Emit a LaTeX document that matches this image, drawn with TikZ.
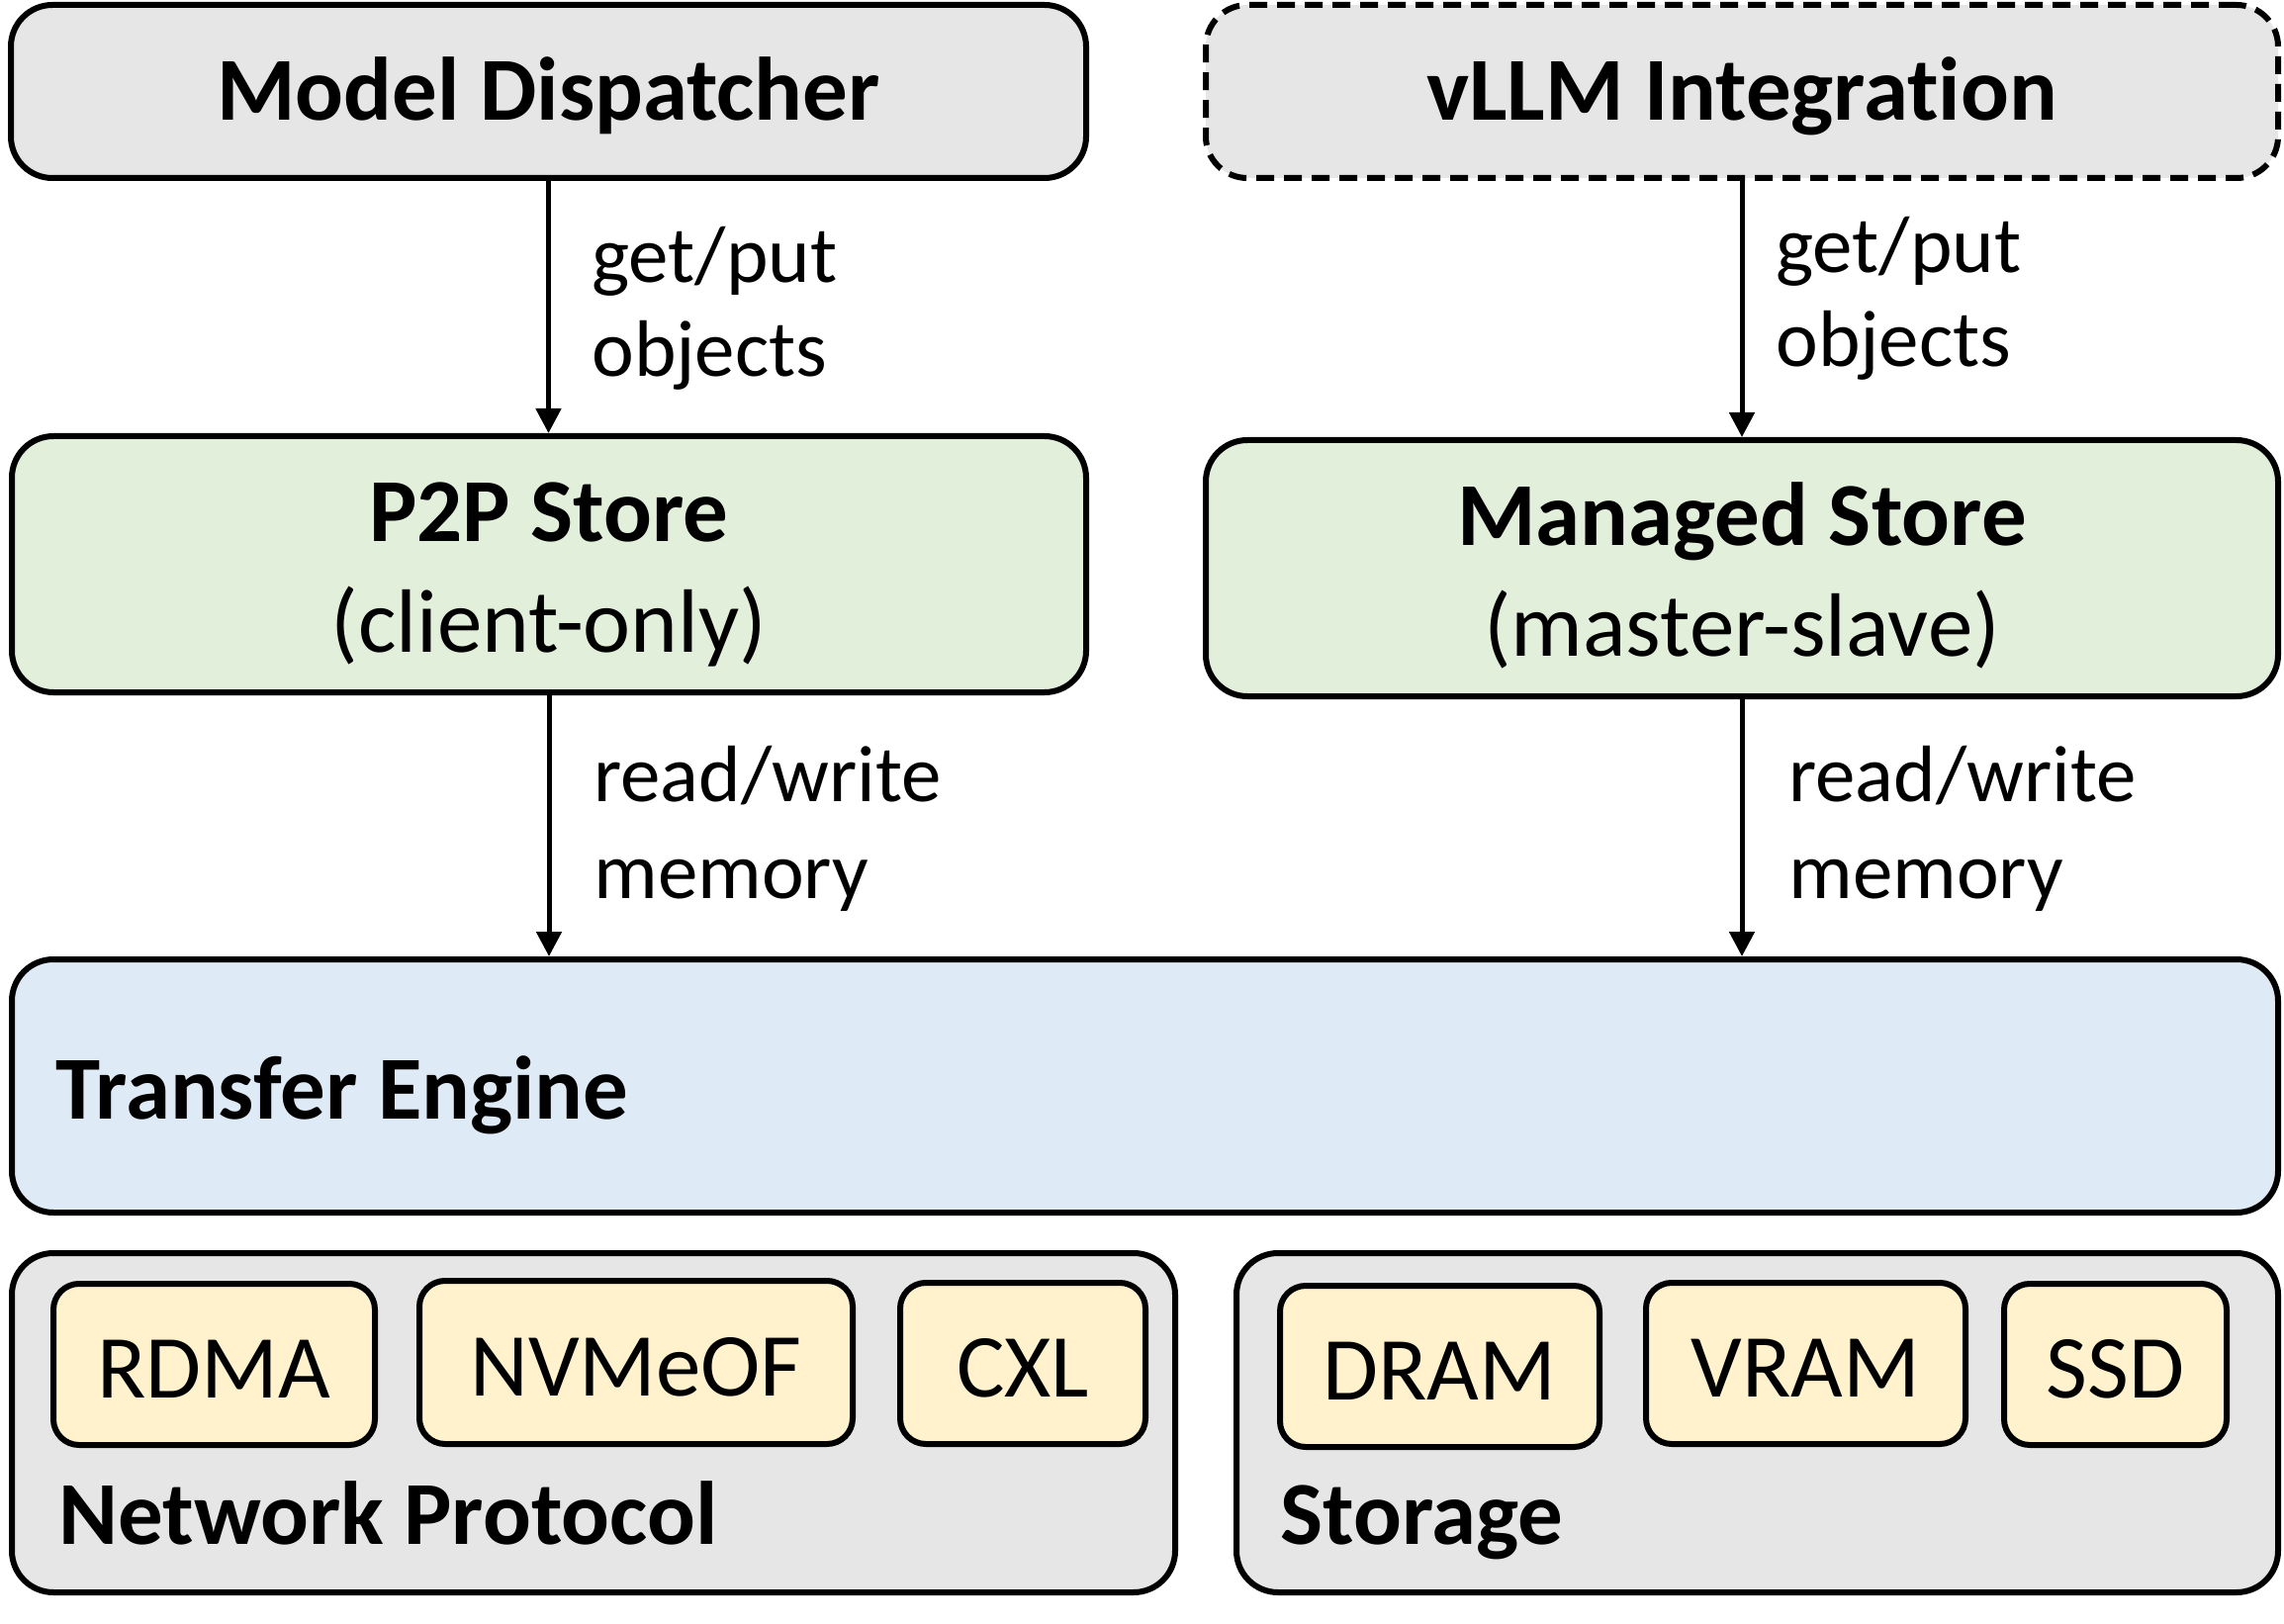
\documentclass[tikz,border=0pt]{standalone}
\usepackage{fontspec}
\setmainfont{Carlito}[Ligatures=NoCommon]
\usetikzlibrary{arrows.meta}
\definecolor{boxgray}{HTML}{E6E6E6}
\definecolor{boxgreen}{HTML}{E2EFDA}
\definecolor{boxblue}{HTML}{DEEBF7}
\definecolor{boxyellow}{HTML}{FFF2CC}
\newcommand{\bigfont}{\fontsize{45.5}{56}\selectfont}
\newcommand{\lblfont}{\fontsize{40.5}{47.5}\selectfont}
\begin{document}
\begin{tikzpicture}[x=0.5pt,y=-0.5pt,
  blk/.style={draw=black, line width=3pt, rounded corners=21pt, inner sep=0pt},
  blktext/.style={inner sep=0pt, align=center, font=\bigfont},
  small/.style={draw=black, line width=3pt, rounded corners=13pt, inner sep=0pt,
    fill=boxyellow, font=\bigfont, minimum height=81.5pt,
    text height=33.5pt, text depth=0pt},
  lbl/.style={inner sep=0pt, align=left, anchor=west, font=\lblfont},
  title/.style={inner sep=0pt, anchor=base west, font=\bigfont\bfseries},
  arr/.style={line width=2.5pt, -{Triangle[width=12.5pt,length=12.5pt]}}
]
\useasboundingbox (0,0) rectangle (2309,1642);

% top row
\node[blk, fill=boxgray, minimum width=543.5pt, minimum height=87.5pt]
  (md) at (554.5,92.5) {};
\node[blktext, yshift=-2.2pt] (mdtext) at (md.center) {\bfseries Model Dispatcher};
\node[blk, fill=boxgray, dash pattern=on 9pt off 5pt, minimum width=542pt, minimum height=87.5pt]
  (vllm) at (1761,92.5) {};
\node[blktext, yshift=-2.2pt] (vllmtext) at (vllm.center) {\bfseries vLLM Integration};

% stores
\node[blk, fill=boxgreen, minimum width=543pt, minimum height=129.5pt]
  (p2p) at (555,570.5) {};
\node[blktext, yshift=-5pt] (p2ptext) at (p2p.center) {\bfseries P2P Store\\(client-only)};
\node[blk, fill=boxgreen, minimum width=542pt, minimum height=129.5pt]
  (ms) at (1761,574.5) {};
\node[blktext, yshift=-3.5pt] (mstext) at (ms.center) {\bfseries Managed Store\\(master-slave)};

% transfer engine
\node[blk, fill=boxblue, minimum width=1145.5pt, minimum height=128pt]
  (te) at (1157.5,1098) {};
\node[title] (tetext) at (56,1131) {Transfer Engine};

% bottom groups
\node[blk, fill=boxgray, minimum width=588pt, minimum height=171.5pt]
  (np) at (600,1438.5) {};
\node[blk, fill=boxgray, minimum width=526.5pt, minimum height=171.5pt]
  (st) at (1776.5,1438.5) {};
\node[title] (nptext) at (59,1561) {Network Protocol};
\node[title] (sttext) at (1294,1561) {Storage};

\node[small, minimum width=162.5pt] (rdma) at (216.5,1379.5) {RDMA};
\node[small, minimum width=219pt, minimum height=82.5pt] (nvme) at (643,1377.5) {NVMeOF};
\node[small, minimum width=124pt] (cxl) at (1034,1378.5) {CXL};
\node[small, minimum width=161.5pt] (dram) at (1455.5,1381.5) {DRAM};
\node[small, minimum width=161.5pt] (vram) at (1825.5,1378.5) {VRAM};
\node[small, minimum width=112.5pt] (ssd) at (2138.5,1379.5) {SSD};

% arrows
\draw[arr] (md.south) -- (md.south |- p2p.north);
\draw[arr] (vllm.south) -- (vllm.south |- ms.north);
\draw[arr] (p2p.south) -- (p2p.south |- te.north);
\draw[arr] (ms.south) -- (ms.south |- te.north);

% labels
\node[lbl] (l1) at (598,312) {get/put\\objects};
\node[lbl] (l2) at (1795,302) {get/put\\objects};
\node[lbl, font=\fontsize{40.5}{49}\selectfont] (l3) at (600,838) {read/write\\memory};
\node[lbl, font=\fontsize{40.5}{49}\selectfont] (l4) at (1808,838) {read/write\\memory};
\end{tikzpicture}
\end{document}
